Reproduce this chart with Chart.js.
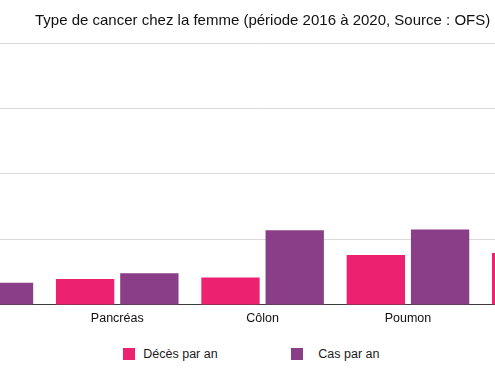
<!DOCTYPE html>
<html>
<head>
<meta charset="utf-8">
<script src="https://cdn.jsdelivr.net/npm/chart.js@4"></script>
<style>
  html, body { margin: 0; padding: 0; background: #ffffff; overflow: hidden; width: 495px; height: 381px; }
  #wrap { position: relative; width: 495px; height: 381px; overflow: hidden; }
  #c { position: absolute; left: -141px; top: 0; }
  #legend { position: absolute; top: 348px; left: 0; width: 495px; height: 14px; font-family: 'Liberation Sans', Arial, sans-serif; font-size: 12.5px; color: #1a1a1a; }
  .item { position: absolute; top: 0; height: 14px; }
  .sw { position: absolute; top: 0; left: 0; width: 12px; height: 12px; }
  .lbl { position: absolute; top: -1px; white-space: nowrap; line-height: 14px; }
</style>
</head>
<body>
<div id="wrap">
  <canvas id="c" width="767" height="330"></canvas>
  <div id="legend"></div>
</div>
<script>
const categories = ['Ovaires', 'Pancréas', 'Côlon', 'Poumon', 'Sein'];
const seriesNames = ['Décès par an', 'Cas par an'];
const deces = [410, 595, 630, 1145, 1190];
const cas = [510, 725, 1710, 1730, 5950];
const yTicks = [0, 1500, 3000, 4500, 6000];
const titleText = 'Type de cancer chez la femme (période 2016 à 2020, Source : OFS)';

const PINK = '#EC2170';
const PURPLE = '#8A3E88';
const FONT = "'Liberation Sans', Arial, sans-serif";

const chart = new Chart(document.getElementById('c'), {
  type: 'bar',
  data: {
    labels: categories,
    datasets: [
      { label: seriesNames[0], data: deces, backgroundColor: PINK, borderWidth: 0 },
      { label: seriesNames[1], data: cas, backgroundColor: PURPLE, borderWidth: 0 }
    ]
  },
  options: {
    responsive: false,
    animation: false,
    devicePixelRatio: 1,
    layout: { padding: 0 },
    datasets: { bar: { categoryPercentage: 0.884, barPercentage: 0.908 } },
    plugins: {
      legend: { display: false },
      tooltip: { enabled: false },
      title: {
        display: true,
        text: titleText,
        fullSize: false,
        color: '#111111',
        font: { family: FONT, size: 15, weight: 'normal' },
        padding: { top: 12, bottom: 13 }
      }
    },
    scales: {
      x: {
        grid: { display: false, drawTicks: false },
        border: { display: true, color: '#3c3c3c', width: 1 },
        ticks: { color: '#111111', padding: 6, font: { family: FONT, size: 12.5 } },
        afterFit: (s) => { s.height = 25.1; }
      },
      y: {
        min: yTicks[0],
        max: yTicks[yTicks.length - 1],
        afterBuildTicks: (s) => { s.ticks = yTicks.map(v => ({ value: v })); },
        grid: {
          drawTicks: false,
          color: (ctx) => (ctx.tick && ctx.tick.value === 0) ? '#3c3c3c' : '#d9d9d9',
          lineWidth: 1
        },
        border: { display: false },
        ticks: { color: '#111111', padding: 6, font: { family: FONT, size: 12 } },
        afterFit: (s) => { s.width = 40.2; }
      }
    }
  }
});

// HTML legend built from the chart's datasets
const legendPos = [{ sw: 123.3, txt: 143.3 }, { sw: 290.7, txt: 318.3 }];
const legendEl = document.getElementById('legend');
chart.data.datasets.forEach((ds, i) => {
  const item = document.createElement('div');
  item.className = 'item';
  item.style.left = legendPos[i].sw + 'px';
  const sw = document.createElement('div');
  sw.className = 'sw';
  sw.style.background = ds.backgroundColor;
  const lbl = document.createElement('div');
  lbl.className = 'lbl';
  lbl.style.left = (legendPos[i].txt - legendPos[i].sw) + 'px';
  lbl.textContent = ds.label;
  item.appendChild(sw);
  item.appendChild(lbl);
  legendEl.appendChild(item);
});
</script>
</body>
</html>
